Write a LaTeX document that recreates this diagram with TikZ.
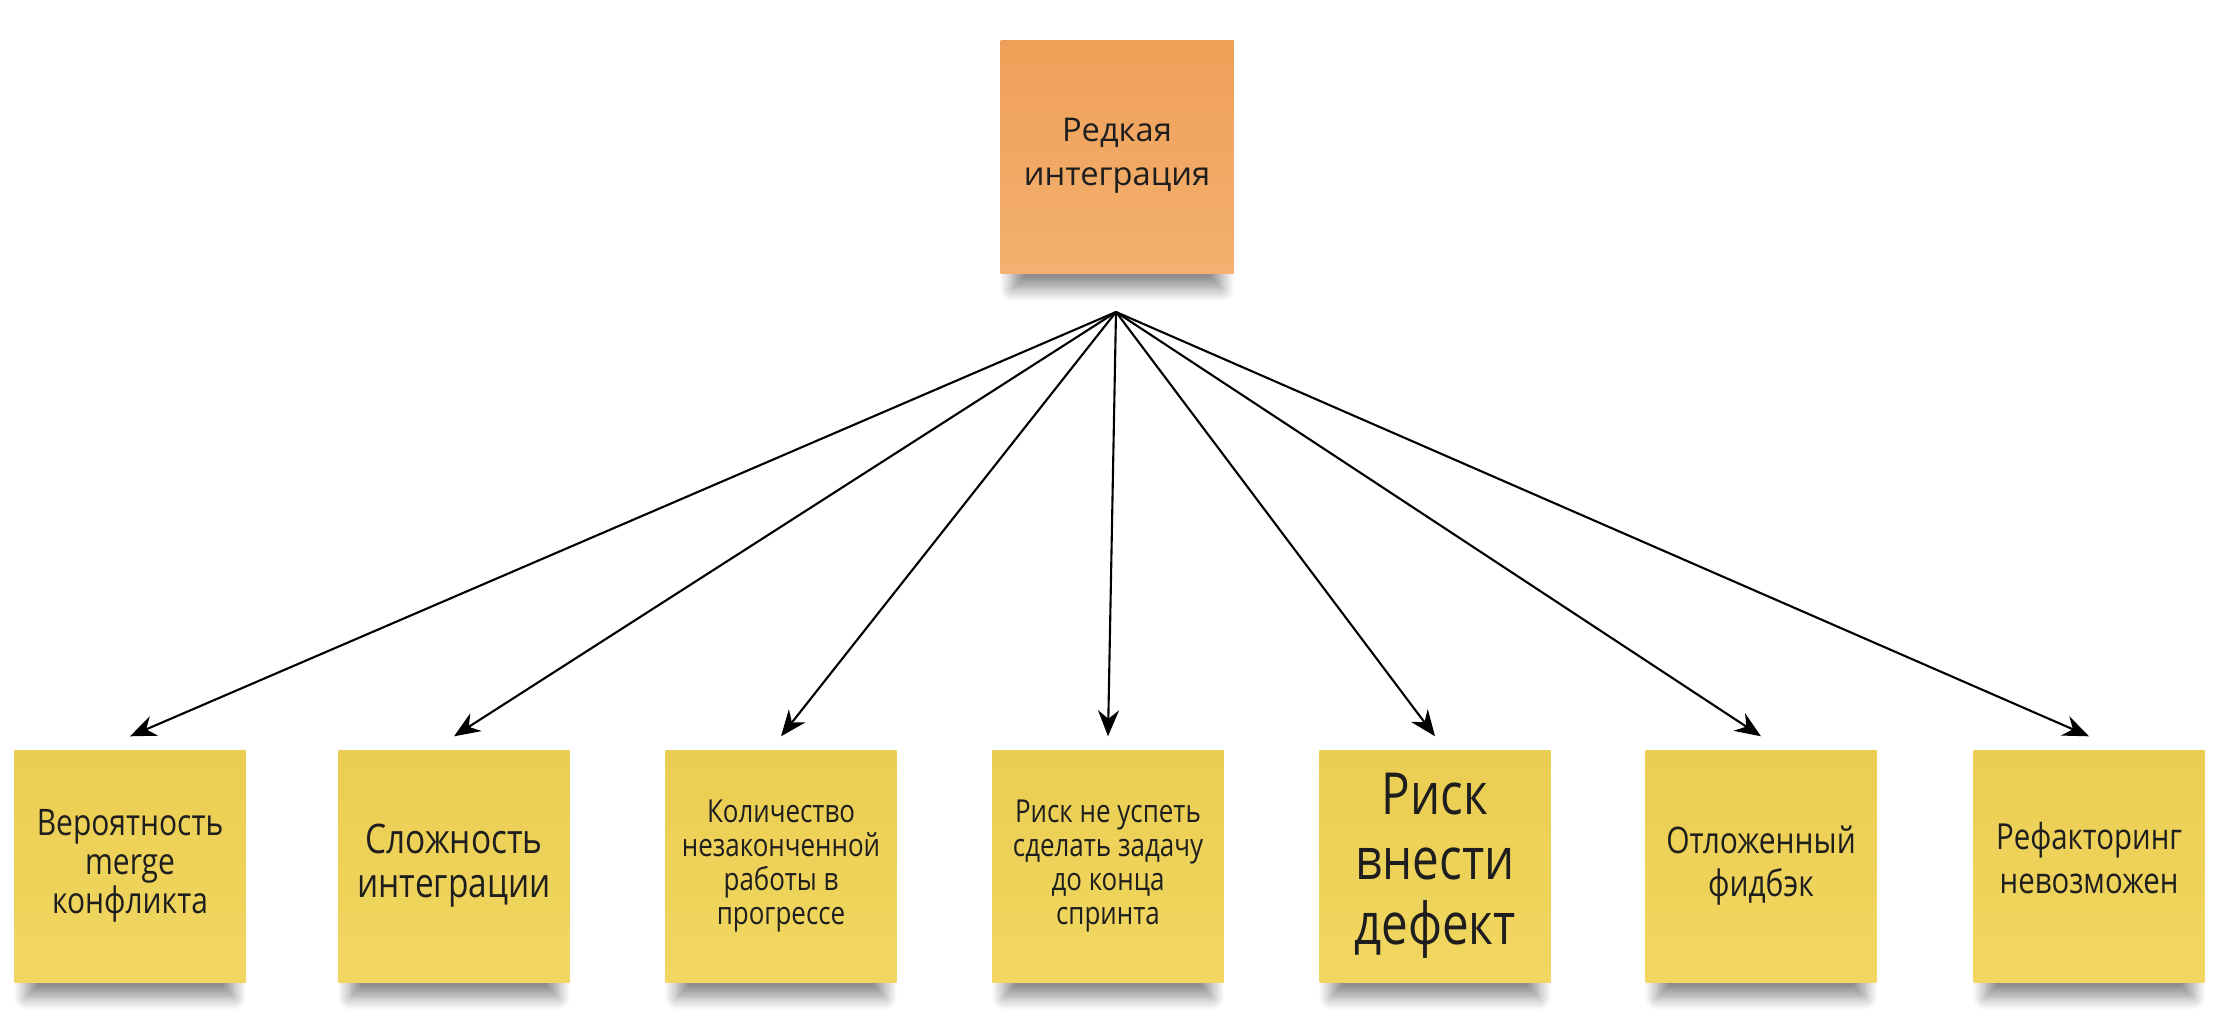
\documentclass[tikz,border=0pt]{standalone}
\usepackage{fontspec}
\setmainfont{Open Sans}
\newfontfamily\narrowsans[FakeStretch=0.82]{Open Sans}
\usetikzlibrary{arrows.meta, shadows.blur}
\definecolor{orangenote}{RGB}{239,160,88}
\definecolor{orangenotelow}{RGB}{243,176,112}
\definecolor{yellownote}{RGB}{234,205,82}
\definecolor{yellownotelow}{RGB}{241,215,97}
\definecolor{notetext}{RGB}{30,30,30}
\tikzset{
  sticky/.style={rectangle, minimum width=2.31cm, minimum height=2.32cm, inner sep=0pt,
    align=center, text=notetext,
    blur shadow={shadow xshift=0pt, shadow yshift=-0.3cm, shadow scale=0.9,
      shadow opacity=45, shadow blur steps=12, shadow blur radius=0.14cm}},
  causenote/.style={sticky, minimum width=2.33cm, minimum height=2.33cm,
    top color=orangenote, bottom color=orangenotelow},
  effectnote/.style={sticky, top color=yellownote, bottom color=yellownotelow},
  effectarrow/.style={line width=0.6pt, -{Stealth[length=2.6mm, width=2.1mm]}}
}
\begin{document}
\begin{tikzpicture}
\useasboundingbox (0,0) rectangle (22.32,10.18);
\node [causenote, font=\fontsize{9.3}{12.8}\selectfont] (cause) at (11.17,8.61) {\raisebox{1.0mm}{\shortstack{Редкая\\[2.6pt]интеграция}}};
\coordinate (hub) at (11.16,7.06);
\node [effectnote, font=\narrowsans\fontsize{10.4}{11.1}\selectfont] (e1) at (1.30,1.52) {Вероятность\\merge\\конфликта};
\node [effectnote, font=\narrowsans\fontsize{11.6}{12.5}\selectfont] (e2) at (4.54,1.52) {Сложность\\интеграции};
\node [effectnote, font=\narrowsans\fontsize{9.0}{9.7}\selectfont] (e3) at (7.81,1.52) {Количество\\незаконченной\\работы в\\прогрессе};
\node [effectnote, font=\narrowsans\fontsize{9.0}{9.7}\selectfont] (e4) at (11.08,1.52) {Риск не успеть\\сделать задачу\\до конца\\спринта};
\node [effectnote, font=\narrowsans\fontsize{16.5}{18.5}\selectfont] (e5) at (14.35,1.52) {Риск\\внести\\дефект};
\node [effectnote, font=\narrowsans\fontsize{10.4}{12.2}\selectfont] (e6) at (17.61,1.52) {Отложенный\\фидбэк};
\node [effectnote, font=\narrowsans\fontsize{10.2}{11.7}\selectfont] (e7) at (20.89,1.52) {\raisebox{1.6mm}{\shortstack{Рефакторинг\\[1.5pt]невозможен}}};
\foreach \e in {e1,e2,e3,e4,e5,e6,e7}
  \draw [effectarrow] (hub) -- ([yshift=1.3mm]\e.north);
\end{tikzpicture}
\end{document}
